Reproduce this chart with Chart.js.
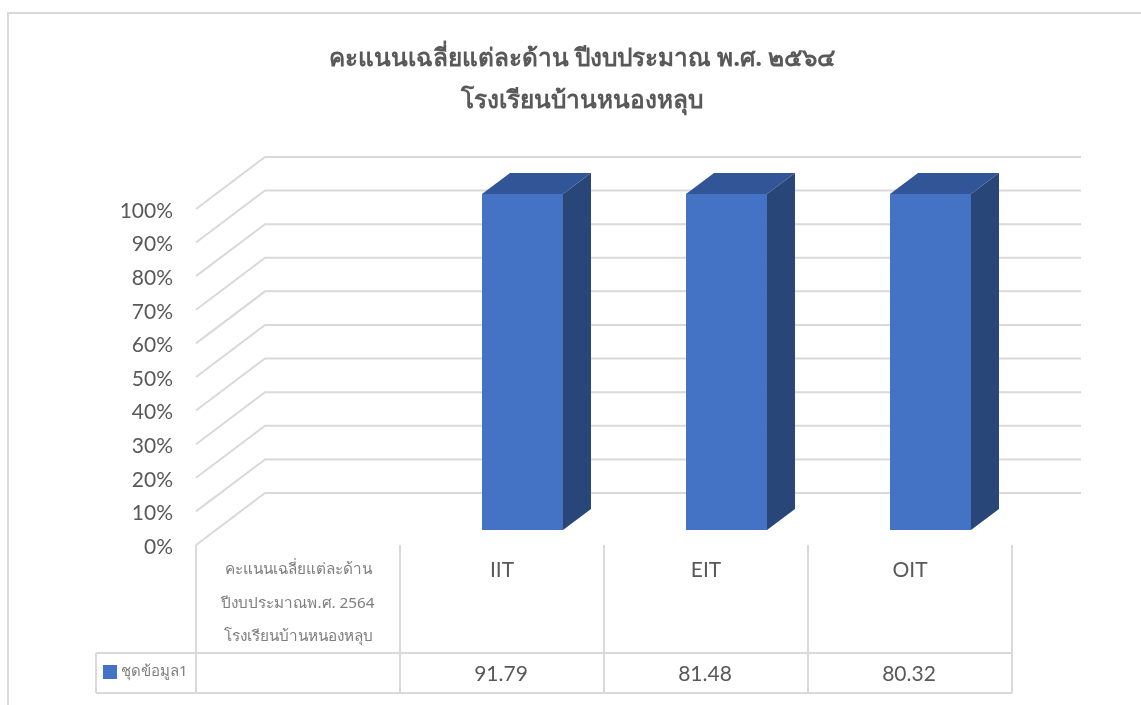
<!DOCTYPE html>
<html>
<head>
<meta charset="utf-8">
<style>
  html, body { margin: 0; padding: 0; background: #fff; }
  #wrap { position: relative; width: 1141px; height: 705px; overflow: hidden; }
  #frame { position: absolute; left: 7px; top: 12px; width: 1200px; height: 800px; border: 2px solid #d9d9d9; box-sizing: border-box; }
  canvas { position: absolute; left: 0; top: 0; }
</style>
</head>
<body>
<div id="wrap">
  <div id="frame"></div>
  <canvas id="scoreChart" width="1141" height="705"></canvas>
</div>
<script src="https://cdn.jsdelivr.net/npm/chart.js@4"></script>
<script>
const titleLines = ['คะแนนเฉลี่ยแต่ละด้าน ปีงบประมาณ พ.ศ. ๒๕๖๔', 'โรงเรียนบ้านหนองหลุบ'];
const categories = [
    ['คะแนนเฉลี่ยแต่ละด้าน', 'ปีงบประมาณพ.ศ. 2564', 'โรงเรียนบ้านหนองหลุบ'],
    'IIT', 'EIT', 'OIT'
];
const seriesName = 'ชุดข้อมูล1';
const seriesValues = [null, 91.79, 81.48, 80.32];
const tickValues = [0, 10, 20, 30, 40, 50, 60, 70, 80, 90, 100];

// 100% stacked chart with one series, so each filled category is its whole column
const shares = seriesValues.map(v => (v === null ? null : v / v * 100));

const GRID = '#d9d9d9';
const TEXT = '#595959';
const LATIN = 'Lato, "Open Sans", sans-serif';
const THAI = '"Noto Sans", sans-serif';

// depth of the box, wall offset and bar offset, in pixels
const WALL = { dx: 69, dy: -52 };
const BAR_SHIFT = { dx: 20.5, dy: -15 };
const BAR_DEPTH = { dx: 28, dy: -21 };

function line(ctx, x1, y1, x2, y2) {
    ctx.beginPath();
    ctx.moveTo(x1, y1);
    ctx.lineTo(x2, y2);
    ctx.stroke();
}

const fake3d = {
    id: 'fake3d',
    beforeDatasetsDraw(chart) {
        const ctx = chart.ctx, y = chart.scales.y, area = chart.chartArea;
        // wall grid with the slanted floor/side part
        ctx.save();
        ctx.strokeStyle = GRID;
        ctx.lineWidth = 2;
        ctx.lineJoin = 'miter';
        tickValues.forEach(t => {
            const py = y.getPixelForValue(t);
            ctx.beginPath();
            ctx.moveTo(area.left, py);
            ctx.lineTo(area.left + WALL.dx, py + WALL.dy);
            ctx.lineTo(area.right + WALL.dx, py + WALL.dy);
            ctx.stroke();
        });
        ctx.restore();
        // bars are pushed back into the box
        ctx.save();
        ctx.translate(BAR_SHIFT.dx, BAR_SHIFT.dy);
    },
    afterDatasetsDraw(chart) {
        const ctx = chart.ctx;
        chart.getDatasetMeta(0).data.forEach((bar, i) => {
            if (seriesValues[i] === null) return;
            const l = bar.x - bar.width / 2, r = bar.x + bar.width / 2;
            ctx.fillStyle = '#315596';
            ctx.beginPath();
            ctx.moveTo(l, bar.y);
            ctx.lineTo(l + BAR_DEPTH.dx, bar.y + BAR_DEPTH.dy);
            ctx.lineTo(r + BAR_DEPTH.dx, bar.y + BAR_DEPTH.dy);
            ctx.lineTo(r, bar.y);
            ctx.closePath();
            ctx.fill();
            ctx.fillStyle = '#294679';
            ctx.beginPath();
            ctx.moveTo(r, bar.y);
            ctx.lineTo(r + BAR_DEPTH.dx, bar.y + BAR_DEPTH.dy);
            ctx.lineTo(r + BAR_DEPTH.dx, bar.base + BAR_DEPTH.dy);
            ctx.lineTo(r, bar.base);
            ctx.closePath();
            ctx.fill();
        });
        ctx.restore();
    }
};

const dataTable = {
    id: 'dataTable',
    afterDraw(chart) {
        const ctx = chart.ctx, x = chart.scales.x, area = chart.chartArea;
        const cell = x.width / categories.length;
        const rowTop = area.bottom + 108, rowBottom = area.bottom + 148;
        const keyLeft = area.left - 100;

        ctx.save();
        ctx.strokeStyle = GRID;
        ctx.lineWidth = 2;
        for (let i = 0; i <= categories.length; i++) {
            const px = area.left + i * cell;
            line(ctx, px, area.bottom, px, rowBottom);
        }
        line(ctx, keyLeft, rowTop, area.right, rowTop);
        line(ctx, keyLeft, rowBottom, area.right, rowBottom);
        line(ctx, keyLeft, rowTop, keyLeft, rowBottom);

        // legend key
        ctx.fillStyle = '#4472c4';
        ctx.fillRect(keyLeft + 7, rowTop + 12, 14, 14);
        ctx.fillStyle = '#7f7f7f';
        ctx.font = '15px ' + THAI;
        ctx.textAlign = 'left';
        ctx.textBaseline = 'middle';
        ctx.fillText(seriesName, keyLeft + 25, rowTop + 19);

        // values row
        ctx.fillStyle = TEXT;
        ctx.font = '21px ' + LATIN;
        ctx.textAlign = 'center';
        seriesValues.forEach((v, i) => {
            if (v === null) return;
            ctx.fillText(v.toFixed(2), x.getPixelForValue(i) - 1, rowTop + 21);
        });
        ctx.restore();
    }
};

new Chart(document.getElementById('scoreChart'), {
    type: 'bar',
    data: {
        labels: categories,
        datasets: [{
            label: seriesName,
            data: shares,
            backgroundColor: '#4472c4',
            barPercentage: 0.397,
            categoryPercentage: 1
        }]
    },
    options: {
        responsive: false,
        animation: false,
        layout: { padding: { left: 23, right: 0, top: 38, bottom: 0 } },
        plugins: {
            legend: { display: false },
            tooltip: { enabled: false },
            title: {
                display: true,
                text: titleLines,
                color: TEXT,
                font: { family: THAI, size: 24.4, weight: 'bold', lineHeight: 1.72 },
                padding: { top: 0, bottom: 87 }
            }
        },
        scales: {
            x: {
                border: { display: false },
                grid: { display: false },
                afterFit(scale) { scale.height = 160; },
                ticks: {
                    autoSkip: false,
                    maxRotation: 0,
                    padding: 0,
                    color: ctx => (ctx.index === 0 ? '#7f7f7f' : TEXT),
                    font: ctx => (ctx.index === 0
                        ? { family: THAI, size: 15.3, lineHeight: '33.5px' }
                        : { family: LATIN, size: 21, lineHeight: '33.5px' })
                }
            },
            y: {
                min: 0,
                max: 100,
                border: { display: false },
                grid: { display: false },
                afterFit(scale) { scale.width = 173; },
                afterBuildTicks(scale) { scale.ticks = tickValues.map(value => ({ value })); },
                ticks: {
                    padding: 15,
                    labelOffset: 2,
                    color: TEXT,
                    font: { family: LATIN, size: 21 },
                    callback: v => v + '%'
                }
            },
            // empty axis, only keeps the plot clear of the space right of the table
            spacer: {
                axis: 'y',
                position: 'right',
                border: { display: false },
                grid: { display: false },
                ticks: { display: false },
                afterFit(scale) { scale.width = 129; }
            }
        }
    },
    plugins: [fake3d, dataTable]
});
</script>
</body>
</html>
